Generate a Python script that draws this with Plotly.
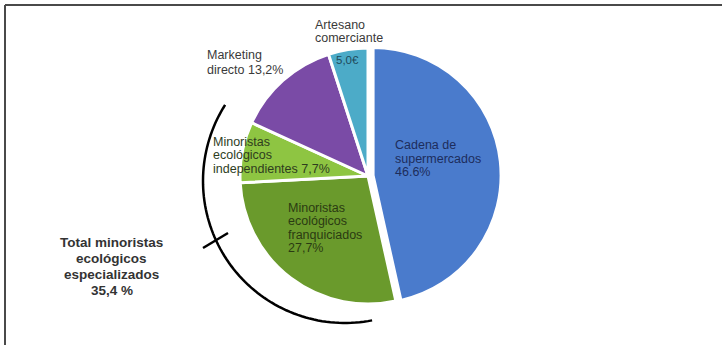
import numpy as np
import plotly.graph_objects as go

# ---- data ----
categories = ["Cadena de supermercados", "Minoristas ecológicos franquiciados",
              "Minoristas ecológicos independientes", "Marketing directo",
              "Artesano comerciante"]
values = [46.6, 27.7, 7.7, 13.2, 5.0]
value_text = ["46.6%", "27,7%", "7,7%", "13,2%", "5,0€"]
colors = ["#4a7bcc", "#6a9a2c", "#8ec542", "#7a4ba6", "#4cabc8"]
pulls = [0.04, 0, 0, 0, 0]
total_specialized = "35,4 %"

W, H = 722, 345
CX, CY, R = 368, 176, 128   # pie centre / radius in pixels
R0 = R * (1 + max(pulls))

def px(x):
    return x / W

def py(y):
    return 1 - y / H

fig = go.Figure()
fig.add_trace(go.Pie(
    labels=categories, values=values, sort=False, direction="clockwise",
    rotation=0, pull=pulls, textinfo="none", hoverinfo="label+percent",
    marker=dict(colors=colors, line=dict(color="white", width=3)),
    domain=dict(x=[px(CX - R0), px(CX + R0)], y=[py(CY + R0), py(CY - R0)]),
    showlegend=False,
))

annotations = []

def add_lines(lines, x, y0, dy, size=12.5, color="#3a3a3a", bold=False, anchor="left"):
    for i, t in enumerate(lines):
        annotations.append(dict(
            text=f"<b>{t}</b>" if bold else t, x=px(x), y=py(y0 + i * dy),
            xref="paper", yref="paper", xanchor=anchor, yanchor="middle",
            showarrow=False,
            font=dict(family="Liberation Sans, Arial, sans-serif", size=size, color=color),
        ))

add_lines(["Artesano", "comerciante"], 313, 25, 13.5)
add_lines([value_text[4]], 347, 60, 13, size=11.5, color="#1f4a5a", anchor="center")
add_lines(["Marketing", "directo " + value_text[3]], 205, 55, 15)
add_lines(["Minoristas", "ecológicos", "independientes " + value_text[2]], 211, 142, 13.4,
          color="#2e3d1e")
add_lines(["Minoristas", "ecológicos", "franquiciados", value_text[1]], 286, 208, 13.4,
          color="#2a3a12")
add_lines(["Cadena de", "supermercados", value_text[0]], 393, 145, 13.5, color="#1d2d5c")
add_lines(["Total minoristas", "ecológicos", "especializados", total_specialized], 112, 242, 16,
          size=13.5, color="#333333", bold=True, anchor="center")

# bracket arc around the specialised-retailer slices
acx, acy, ar = 345, 181, 142
theta = np.radians(np.linspace(212.4, 79, 80))
ax_ = acx + ar * np.cos(theta)
ay_ = acy + ar * np.sin(theta)
path = "M " + " L ".join(f"{px(a):.5f},{py(b):.5f}" for a, b in zip(ax_, ay_))

shapes = [
    dict(type="path", path=path, xref="paper", yref="paper",
         line=dict(color="black", width=2.5)),
    dict(type="line", x0=px(203), y0=py(248), x1=px(228), y1=py(233),
         xref="paper", yref="paper", line=dict(color="black", width=2.5)),
    # frame lines
    dict(type="line", x0=px(5), y0=py(5), x1=px(722), y1=py(5),
         xref="paper", yref="paper", line=dict(color="#4a4a4a", width=2)),
    dict(type="line", x0=px(5), y0=py(5), x1=px(5), y1=py(345),
         xref="paper", yref="paper", line=dict(color="#4a4a4a", width=2)),
]

fig.update_layout(
    width=W, height=H, margin=dict(l=0, r=0, t=0, b=0),
    paper_bgcolor="white", plot_bgcolor="white",
    annotations=annotations, shapes=shapes,
)

fig.write_html("out.html")
